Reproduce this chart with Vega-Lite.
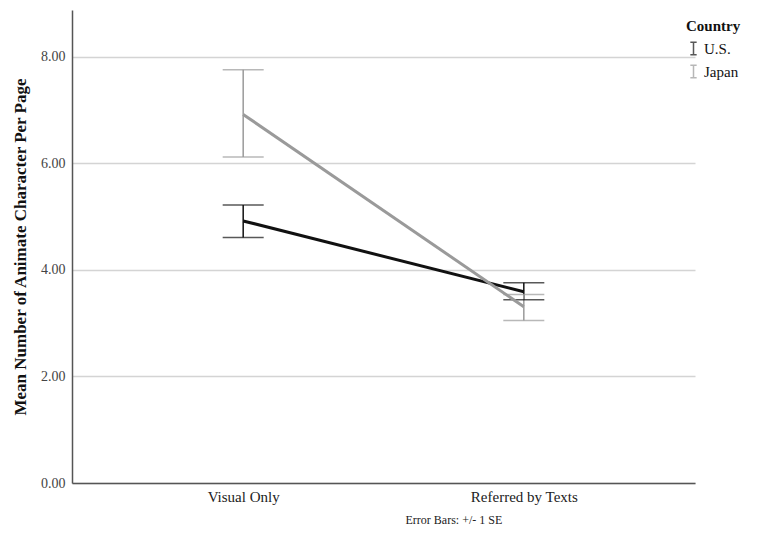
{
  "$schema": "https://vega.github.io/schema/vega-lite/v6.json",
  "width": 623,
  "height": 473,
  "autosize": {"type": "none"},
  "padding": {"left": 72, "top": 10, "right": 70, "bottom": 60},
  "background": "white",
  "config": {
    "view": {"stroke": null},
    "font": "Liberation Serif",
    "axis": {"labelFont": "Liberation Serif", "titleFont": "Liberation Serif"},
    "legend": {"labelFont": "Liberation Serif", "titleFont": "Liberation Serif"}
  },
  "data": {
    "values": [
      {"cond": "Visual Only", "country": "U.S.", "mean": 4.92, "lo": 4.61, "hi": 5.22},
      {"cond": "Referred by Texts", "country": "U.S.", "mean": 3.59, "lo": 3.44, "hi": 3.76},
      {"cond": "Visual Only", "country": "Japan", "mean": 6.92, "lo": 6.12, "hi": 7.76},
      {"cond": "Referred by Texts", "country": "Japan", "mean": 3.31, "lo": 3.05, "hi": 3.54}
    ]
  },
  "encoding": {
    "x": {
      "field": "cond",
      "type": "nominal",
      "sort": ["Visual Only", "Referred by Texts"],
      "scale": {"type": "point", "padding": 0.61},
      "axis": {
        "title": "Error Bars: +/- 1 SE",
        "titleFont": "Liberation Serif",
        "labelFont": "Liberation Serif",
        "titleX": 333,
        "titleY": 36,
        "titleAlign": "left",
        "titleBaseline": "middle",
        "titleFontSize": 12,
        "titleFontWeight": "normal",
        "titleColor": "#222",
        "labelAngle": 0,
        "labelFontSize": 15,
        "labelColor": "#222",
        "labelPadding": 6,
        "ticks": false,
        "grid": false,
        "domainColor": "#555",
        "domainWidth": 1.5
      }
    },
    "color": {
      "field": "country",
      "type": "nominal",
      "scale": {"domain": ["U.S.", "Japan"], "range": ["#111111", "#9a9a9a"]},
      "legend": {
        "title": "Country",
        "titleFont": "Liberation Serif",
        "labelFont": "Liberation Serif",
        "orient": "none",
        "legendX": 614,
        "legendY": 9,
        "titleFontSize": 15,
        "titleFontWeight": "bold",
        "titleColor": "#111",
        "titlePadding": 7,
        "labelFontSize": 15,
        "labelColor": "#111",
        "labelOffset": 3,
        "rowPadding": 4,
        "symbolType": "M-0.5,-1H0.5M0,-1V1M-0.5,1H0.5",
        "symbolSize": 160,
        "symbolStrokeWidth": 1.5
      }
    }
  },
  "layer": [
    {
      "mark": {"type": "rule", "strokeWidth": 1.5},
      "encoding": {
        "y": {"field": "lo", "type": "quantitative"},
        "y2": {"field": "hi"}
      }
    },
    {
      "mark": {"type": "tick", "size": 41, "thickness": 1.5},
      "encoding": {
        "y": {"field": "lo", "type": "quantitative"}
      }
    },
    {
      "mark": {"type": "tick", "size": 41, "thickness": 1.5},
      "encoding": {
        "y": {"field": "hi", "type": "quantitative"}
      }
    },
    {
      "mark": {"type": "line", "strokeWidth": 3},
      "encoding": {
        "y": {
          "field": "mean",
          "type": "quantitative",
          "scale": {"domain": [0, 8.88], "nice": false, "zero": true},
          "axis": {
            "title": "Mean Number of Animate Character Per Page",
            "titleFont": "Liberation Serif",
            "labelFont": "Liberation Serif",
            "titleFontSize": 17,
            "titleFontWeight": "bold",
            "titleColor": "#111",
            "titlePadding": 11,
            "values": [0, 2, 4, 6, 8],
            "format": ".2f",
            "labelFontSize": 14,
            "labelColor": "#444",
            "labelPadding": 7,
            "ticks": false,
            "grid": true,
            "gridColor": "#d4d4d4",
            "gridWidth": 1.5,
            "domainColor": "#555",
            "domainWidth": 1.5
          }
        }
      }
    }
  ]
}
